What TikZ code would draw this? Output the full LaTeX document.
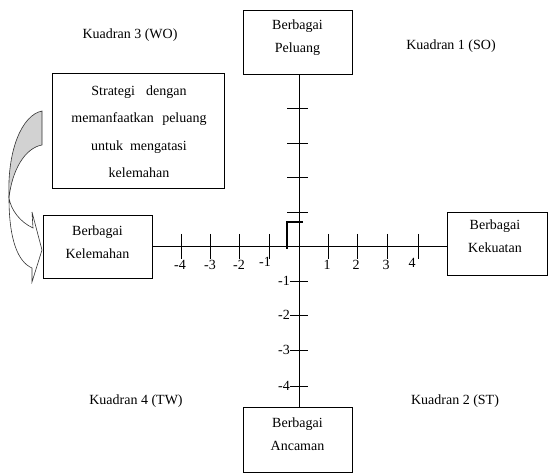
\documentclass[tikz,border=0pt]{standalone}
\usepackage{fontspec}
\setmainfont{Liberation Serif}
\begin{document}
\begin{tikzpicture}[x=1pt,y=-1pt,
  box/.style={draw, line width=0.8pt, inner sep=0pt},
  txt/.style={align=center, font=\fontsize{14}{23}\selectfont, inner sep=0pt},
  lbl/.style={font=\fontsize{14}{16}\selectfont, inner sep=0pt},
  tk/.style={line width=0.7pt},
  axis/.style={line width=0.8pt}]
\useasboundingbox (0,0) rectangle (549,473);
% boxes
\node[box, minimum width=109pt, minimum height=64pt] (peluang) at (297.5,42) {};
\node[box, minimum width=109pt, minimum height=65pt] (ancaman) at (297.5,439.5) {};
\node[box, minimum width=109pt, minimum height=63pt] (kelemahan) at (97.5,246.5) {};
\node[box, minimum width=100pt, minimum height=63pt] (kekuatan) at (497,243.5) {};
\node[box, minimum width=172pt, minimum height=115pt] (strategi) at (138,130.5) {};
% box texts
\node[txt] (tpeluang) at (297.5,37.5) {Berbagai\\Peluang};
\node[txt] (tancaman) at (297.5,434) {Berbagai\\Ancaman};
\node[txt] (tkelemahan) at (97.5,242.5) {Berbagai\\Kelemahan};
\node[txt] (tkekuatan) at (495,236.5) {Berbagai\\Kekuatan};
\node[txt, font=\fontsize{14}{27.5}\selectfont] (tstrategi) at (139,131.5)
  {Strategi\hspace{0.8em}dengan\\memanfaatkan\hspace{0.6em}peluang\\untuk\hspace{0.5em}mengatasi\\kelemahan};
% quadrant labels
\node[lbl] (k3) at (130,35) {Kuadran 3 (WO)};
\node[lbl] (k1) at (451,46) {Kuadran 1 (SO)};
\node[lbl] (k4) at (136,401) {Kuadran 4 (TW)};
\node[lbl] (k2) at (455,401) {Kuadran 2 (ST)};
% axes
\coordinate (O) at (299,246);
\draw[axis] (peluang.south -| O) -- (ancaman.north -| O);
\draw[axis] (kelemahan.east |- O) -- (kekuatan.west |- O);
% horizontal ticks
\foreach \x in {181,210,239,269,328,357,387,418}{
  \draw[tk] (\x,234) -- (\x,259);
}
\foreach \x/\lab/\ly/\nm in {180/-4/265/hm4, 210/-3/265/hm3, 239/-2/265/hm2, 265/-1/262/hm1, 327/1/265/hp1, 356/2/265/hp2, 386/3/265/hp3, 412/4/263/hp4}{
  \node[lbl] (\nm) at (\x,\ly) {\lab};
}
% vertical ticks upper
\foreach \y in {108,143,177,212}{
  \draw[tk] (287,\y) -- (308,\y);
}
% vertical ticks lower
\foreach \y/\lab/\nm in {281/-1/vm1, 315/-2/vm2, 350/-3/vm3, 386/-4/vm4}{
  \draw[tk] (290,\y) -- (308,\y);
  \node[lbl, anchor=east] (\nm) at (290,\y) {\lab};
}
% thick corner mark
\draw[line width=2.8pt] (287,249) -- (287,222) -- (303,222);
% curved arrow
\filldraw[fill=gray!35, draw=black!80, line width=0.6pt]
  (42,111) .. controls (22,115) and (7,150) .. (9,198)
  .. controls (12,170) and (25,148) .. (42,145) -- cycle;
\draw[fill=white, draw=black!80, line width=0.6pt]
  (9,198) .. controls (9,240) and (18,262) .. (32,268) -- (32,282) -- (42,250)
  -- (32,212) -- (33,228) .. controls (20,222) and (11,210) .. (9,198) -- cycle;
\end{tikzpicture}
\end{document}
